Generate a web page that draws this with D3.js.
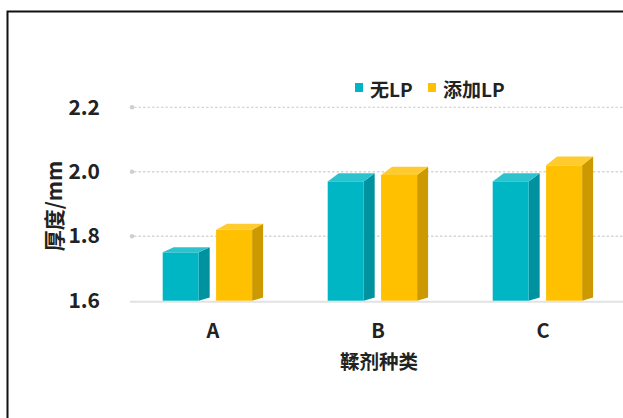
<!DOCTYPE html>
<html>
<head>
<meta charset="utf-8">
<script src="https://cdn.jsdelivr.net/npm/d3@7"></script>
<style>
  html, body { margin: 0; padding: 0; background: #fff; }
  svg { display: block; }
  text { font-family: "Noto Sans CJK SC", "Noto Sans", sans-serif; font-weight: bold; fill: #222; }
</style>
</head>
<body>
<svg id="chart" width="623" height="418"></svg>
<script>
// Tanning agent types and coating thickness (mm)
const categories = ["A", "B", "C"];
const seriesNames = ["无LP", "添加LP"];
const noLP = [1.75, 1.97, 1.97];
const withLP = [1.82, 1.99, 2.02];
const yTicks = [1.6, 1.8, 2.0, 2.2];
const yTitle = "厚度/mm";
const xTitle = "鞣剂种类";

const colors = {
  "无LP": { front: "#00b6c4", side: "#00939f", top: "#2cc3cf" },
  "添加LP": { front: "#ffc000", side: "#cc9a00", top: "#ffcb2e" }
};

const rows = categories.map((c, i) => ({ cat: c, values: [noLP[i], withLP[i]] }));

const svg = d3.select("#chart");

// outer frame
svg.append("rect")
  .attr("x", 7.5).attr("y", 11.5)
  .attr("width", 700).attr("height", 500)
  .attr("fill", "none").attr("stroke", "#111").attr("stroke-width", 2);

const plotLeft = 130, plotRight = 623;
const y = d3.scaleLinear().domain([1.6, 2.2]).range([300.7, 107.3]);
const x0 = d3.scaleBand().domain(categories).range([130.5, 625.5]).padding(0);
const x1 = d3.scaleBand().domain(seriesNames).range([-50.3, 39.1]).paddingInner(0.326).paddingOuter(0);

// gridlines
const grid = svg.append("g");
yTicks.filter(t => t > 1.6).forEach(t => {
  grid.append("line")
    .attr("x1", plotLeft + 4).attr("x2", plotRight)
    .attr("y1", y(t)).attr("y2", y(t))
    .attr("stroke", "#d6d6d6").attr("stroke-width", 1.3)
    .attr("stroke-dasharray", "2.5,2");
  grid.append("circle")
    .attr("cx", plotLeft + 2).attr("cy", y(t)).attr("r", 2.2)
    .attr("fill", "#cfcfcf");
});
// baseline
svg.append("line")
  .attr("x1", plotLeft).attr("x2", plotRight)
  .attr("y1", y(1.6) + 1).attr("y2", y(1.6) + 1)
  .attr("stroke", "#e2e2e2").attr("stroke-width", 2);

// y axis labels
const yAxis = svg.append("g")
  .attr("transform", `translate(${plotLeft},0)`)
  .call(d3.axisLeft(y).tickValues(yTicks).tickFormat(d3.format(".1f")).tickSize(0).tickPadding(30));
yAxis.select(".domain").remove();
yAxis.selectAll("text").attr("font-size", 21).attr("fill", "#1e1e1e")
  .style("font-family", "'Noto Sans CJK SC', sans-serif").style("font-weight", "bold");

// x axis labels
const xAxis = svg.append("g")
  .attr("transform", `translate(0,${y(1.6)})`)
  .call(d3.axisBottom(x0).tickSize(0).tickPadding(23));
xAxis.select(".domain").remove();
xAxis.selectAll("text").attr("font-size", 20).attr("fill", "#1e1e1e")
  .style("font-family", "'Noto Sans CJK SC', sans-serif").style("font-weight", "bold");

// axis titles
svg.append("text")
  .attr("transform", `translate(62,${y(1.9) + 2}) rotate(-90)`)
  .attr("text-anchor", "middle")
  .attr("font-size", 21)
  .text(yTitle);
svg.append("text")
  .attr("x", x0("B") + x0.bandwidth() / 2 + 1).attr("y", 369)
  .attr("text-anchor", "middle")
  .attr("font-size", 19.5)
  .text(xTitle);

// 3D bars: side and top faces recede toward a perspective horizon
const depthX = 11;
const horizonY = 374;
const recede = 0.042;
const back = (px, py) => [px + depthX, py - recede * (horizonY - py)];

const bars = svg.append("g");
rows.forEach(r => {
  seriesNames.forEach((s, j) => {
    const v = r.values[j];
    const bx = x0(r.cat) + x0.bandwidth() / 2 + x1(s);
    const bw = x1.bandwidth();
    const yt = y(v), yb = y(1.6);
    const c = colors[s];
    const [sx1, sy1] = back(bx + bw, yt);
    const [sx2, sy2] = back(bx + bw, yb);
    const [tx1, ty1] = back(bx, yt);
    bars.append("polygon")
      .attr("points", [[bx + bw, yt], [sx1, sy1], [sx2, sy2], [bx + bw, yb]].join(" "))
      .attr("fill", c.side);
    bars.append("polygon")
      .attr("points", [[bx, yt], [tx1, ty1], [sx1, sy1], [bx + bw, yt]].join(" "))
      .attr("fill", c.top);
    bars.append("rect")
      .attr("x", bx).attr("y", yt)
      .attr("width", bw).attr("height", yb - yt)
      .attr("fill", c.front);
  });
});

// legend
const legend = svg.append("g");
const legendPos = [355, 428];
seriesNames.forEach((s, i) => {
  const lx = legendPos[i];
  legend.append("rect")
    .attr("x", lx).attr("y", 83)
    .attr("width", 8).attr("height", 9)
    .attr("fill", colors[s].front);
  legend.append("text")
    .attr("x", lx + 15).attr("y", 88)
    .attr("dominant-baseline", "central")
    .attr("font-size", 19)
    .text(s);
});
</script>
</body>
</html>
